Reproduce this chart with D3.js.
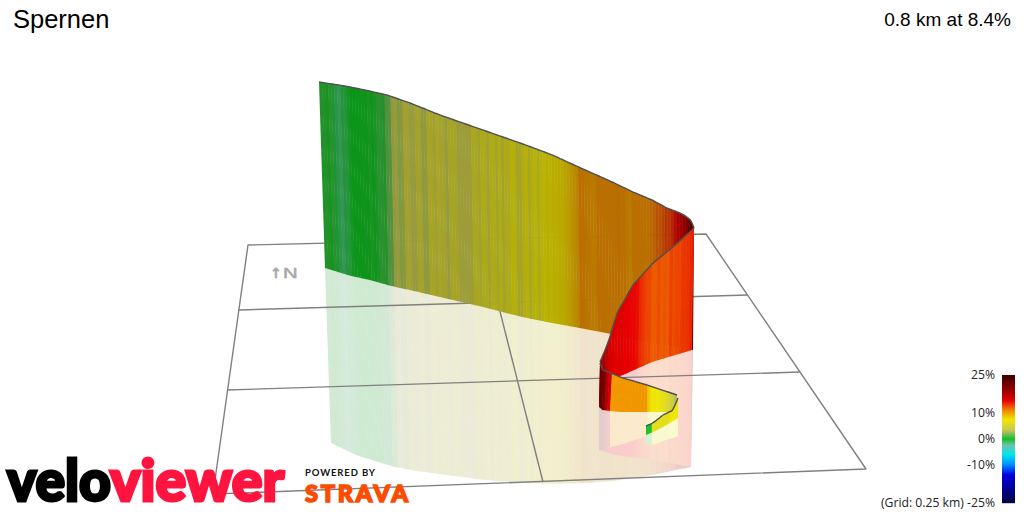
<!DOCTYPE html>
<html><head><meta charset="utf-8"><style>html,body{margin:0;background:#fff}svg{display:block}</style>
<script src="https://cdn.jsdelivr.net/npm/d3@7"></script></head><body><svg id="c" width="1024" height="512"></svg>
<script>
const titleText = "Spernen", summaryText = "0.8 km at 8.4%";
const legendTicks = [25, 10, 0, -10, -25];
const gradeStops = [-25, -14, -10, -6, -2.5, 0, 1, 3.5, 7.5, 11, 15, 18, 25];
const gradeColors = ["#000040", "#0000e0", "#0090ff", "#00e8e8", "#70c0b0", "#10c020", "#50b850", "#c8c850", "#f0e800", "#f08c00", "#e80000", "#a80000", "#3c0000"];

// ribbon 1: long far-facing wall, read left to right, 3px-wide segments
const farGrades = [0.4,0.4,0.2,0.6,-0.6,-1,-1.4,-0.8,-0.8,-0.3,0,0,0,0,0.1,0,0.3,0,0.3,0.6,0.6,0.5,1.5,1.7,3.2,3.4,
 2.8,3,4.4,4.4,3.4,3.4,4.6,4.6,3.2,3.2,5,5,4.2,5.2,4.6,4.6,3.4,5,5,5,3.8,3.8,3.8,3.8,3.8,5.4,5.4,4.6,5.8,5.8,4.4,6,6,5,6.2,4.8,5.8,5.8,6.8,6.8,5,5,6.4,7,5.4,
 6.6,7.2,5.8,7,7.4,7.8,7.2,7.8,7.8,8,8,8.3,8.6,9,9.4,9.8,10.9,10.9,10.6,10.5,10.3,10.4,10.8,10.8,10.8,10.8,10.8,10.8,10.9,11,10.8,10.8,10.5,10.2,10.8,10.9,10.9,10.8,10.8,10.8,11.2,11.4,12,12,12.5,13,13,13.5,14.5,15.5,16,17,18,20,22];
const farTopX = [319,345,365,387,410,440,480,520,550,583,610,633,652,667,680,687,691,694];
const farTopY = [82,86,90,95,103,115,129,143,154,169,181,192,200,208,213,217,221,228];
const farBaseX = [325,351,370,391,414,444,483,522,552,585,611,634,652,667,680,687,690,693];
const farBaseY = [268,276,280,286,291,298,307,317,323,329,334,340,343,345,347,348,349,350];
const farGhostX = [331,356,375,395,417,447,486,524,553,586,612,634,652,667,680,687,689,691];
const farGhostY = [443,455,461,467,471,475,480,483,484,483,481,478,475,472,469,468,467.5,467];

// ribbon 2: red near wall, right to left
const nearGrades = [14,13.6,13.4,13.4,13,13,12.8,13.2,12.4,12.6,12.4,12.8,12.4,12.4,13,13,13.4,13.8,14.6,14.8,14.8,15,15,15.4,15.4,15.2,15.6,16,17,18,19];
const nearTopX = [694,673,653,633,617,608,600];
const nearTopY = [228,247,263,285,313,343,362];
const nearBaseX = [692,672,652,632,616,606,599];
const nearBaseY = [350,356,362,371,378,390,402];
const nearGhostX = [691,671,651,631,615,606,599];
const nearGhostY = [467,463,460,457,455,452,450];

// ribbon 3: orange far-facing loop, left to right
const loopGrades = [22,21,17.5,16,10.6,10.6,10.6,10.6,10.6,10.6,10.6,10.6,10.6,10.6,10.6,10.6,8.6,7.6,7.4,7.2,6.8,6.4,5.6,5,3.8,3];
const loopTopX = [600,603,623,647,677];
const loopTopY = [363,370,378,385,395];
const loopBaseX = [599,602,620,647,677];
const loopBaseY = [407,410,412,412,412];
const loopGhostX = [599,602,620,647,677];
const loopGhostY = [450,449,445,436,428];

// ribbon 4: yellow and green inner end, right to left
const endGrades = [7.5,7.5,7.2,6.3,6.2,6.2,6.2,6.2,6.2,0.2,0.2];
const endTopX = [678,673,663,653,646];
const endTopY = [398,410,415,423,426];
const endBaseX = [678,673,663,653,646];
const endBaseY = [418,421,427,432,435];
const endGhostX = [678,673,663,653,646];
const endGhostY = [436,438,441,445,444];

const gridFrameX = [248,706,866,213], gridFrameY = [245,234,469,494];
const gridLineX1 = [238,227,482], gridLineY1 = [310,390,240];
const gridLineX2 = [748,800,543], gridLineY2 = [295,372,482];

const logoWords = ["velo","viewer"], logoLeft = [7,110], logoWidth = [104,174], logoColors = ["#000","#ff1440"];

const svg = d3.select("#c");
const x = d3.scaleLinear([0,1024],[0,1024]), y = d3.scaleLinear([0,512],[0,512]);
const gradeColor = d3.scaleLinear().domain(gradeStops).range(gradeColors).interpolate(d3.interpolateRgb);
const lineGen = d3.line().x(d=>x(d[0])).y(d=>y(d[1]));

function ribbon(grades, topX, topY, baseX, baseY, ghostX, ghostY, shade){
 const n = grades.length;
 const edge = d3.scaleLinear([0,n],[topX[0],topX[topX.length-1]]);
 const sc = arr => d3.scaleLinear().domain(topX).range(arr);
 const tY=sc(topY), bX=sc(baseX), bY=sc(baseY), gX=sc(ghostX), gY=sc(ghostY);
 const segs = grades.map((g,i)=>{
  const a=edge(i), b=edge(Math.min(i+1.15,n));
  const c=d3.rgb(gradeColor(g)).darker(shade).formatHex();
  return {c, pale:d3.interpolateRgb(c,"#fff")(0.8),
   wall:[[a,tY(a)],[b,tY(b)],[bX(b),bY(b)],[bX(a),bY(a)]],
   ghost:[[bX(a),bY(a)],[bX(b),bY(b)],[gX(b),gY(b)],[gX(a),gY(a)]]};
 });
 const outline = d3.range(n+1).map(i=>{const e=edge(i);return [e,tY(e)];});
 return {segs,outline};
}
const ribbons = [
 ribbon(farGrades,farTopX,farTopY,farBaseX,farBaseY,farGhostX,farGhostY,0.72),
 ribbon(nearGrades,nearTopX,nearTopY,nearBaseX,nearBaseY,nearGhostX,nearGhostY,0),
 ribbon(loopGrades,loopTopX,loopTopY,loopBaseX,loopBaseY,loopGhostX,loopGhostY,0),
 ribbon(endGrades,endTopX,endTopY,endBaseX,endBaseY,endGhostX,endGhostY,0)
];
const ghostG = svg.append("g");
ribbons.forEach(r=>{
 ghostG.append("g").selectAll("path").data(r.segs).join("path")
  .attr("d",d=>lineGen(d.ghost)+"Z").attr("fill",d=>d.pale);
});

// grid
const gridG = svg.append("g").attr("fill","none").attr("stroke","#808080").attr("stroke-width",1.4);
gridG.append("path").attr("d", lineGen(gridFrameX.map((v,i)=>[v,gridFrameY[i]]))+"Z").attr("stroke-linejoin","round");
gridG.selectAll("line").data(gridLineX1).join("line")
 .attr("x1",d=>x(d)).attr("y1",(d,i)=>y(gridLineY1[i])).attr("x2",(d,i)=>x(gridLineX2[i])).attr("y2",(d,i)=>y(gridLineY2[i]));

svg.append("g").attr("fill","#a8a8a8").attr("stroke","#a8a8a8").attr("stroke-width",0.5).attr("transform","translate(270,278)").call(g=>{
 g.append("text").attr("font-family","DejaVu Sans").attr("font-weight","bold").attr("font-size",14).attr("y",-0.5).text("↑");
 g.append("text").attr("font-family","Liberation Sans").attr("font-size",14).attr("x",9).attr("y",0).attr("transform","scale(1.45,1)").text("N");
});

const wallG = svg.append("g");
ribbons.forEach(r=>{
 wallG.append("g").selectAll("path").data(r.segs).join("path")
  .attr("d",d=>lineGen(d.wall)+"Z").attr("fill",d=>d.c);
 wallG.append("path").attr("d",d3.line().x(d=>x(d[0])).y(d=>y(d[1])).curve(d3.curveMonotoneX)(r.outline))
  .attr("fill","none").attr("stroke","#505050").attr("stroke-width",1.4);
});

// titles
svg.append("text").attr("x",13).attr("y",28).attr("font-family","Liberation Sans").attr("font-size",25.5).attr("fill","#000").text(titleText);
svg.append("text").attr("x",1011).attr("y",26).attr("text-anchor","end").attr("font-family","Liberation Sans").attr("font-size",19).attr("fill","#000").text(summaryText);

// legend
const legendY = d3.scaleLinear([25,-25],[375,503]);
svg.append("g").selectAll("rect").data(d3.range(375,503)).join("rect")
 .attr("x",1002).attr("width",13).attr("y",d=>d).attr("height",1.2).attr("fill",d=>gradeColor(legendY.invert(d+0.5)));
svg.append("g").attr("font-family","Open Sans").attr("font-size",12.2).attr("fill","#222").attr("text-anchor","end")
 .selectAll("text").data(legendTicks).join("text").attr("x",995).attr("y",d=>legendY(d)+4)
 .text(d=>(d===-25?"(Grid: 0.25 km) ":"")+d+"%");

// branding
const brand = svg.append("g").attr("font-family","Lato").attr("font-weight",900);
brand.append("text").attr("x",305).attr("y",475.5).attr("font-size",9.5).attr("font-weight",700).attr("fill","#111")
 .attr("textLength",70).text("POWERED BY");
brand.append("text").attr("x",305).attr("y",502).attr("font-size",23.5).attr("fill","#fc4c02").attr("stroke","#fc4c02").attr("stroke-width",1.6)
 .attr("textLength",103).text("STRAVA");
brand.selectAll("text.logo").data(logoWords).join("text").attr("class","logo")
 .attr("x",(d,i)=>logoLeft[i]).attr("y",500.5).attr("font-size",57)
 .attr("fill",(d,i)=>logoColors[i]).attr("stroke",(d,i)=>logoColors[i]).attr("stroke-width",3)
 .attr("textLength",(d,i)=>logoWidth[i]).attr("lengthAdjust","spacingAndGlyphs").text(d=>d);
</script></body></html>
